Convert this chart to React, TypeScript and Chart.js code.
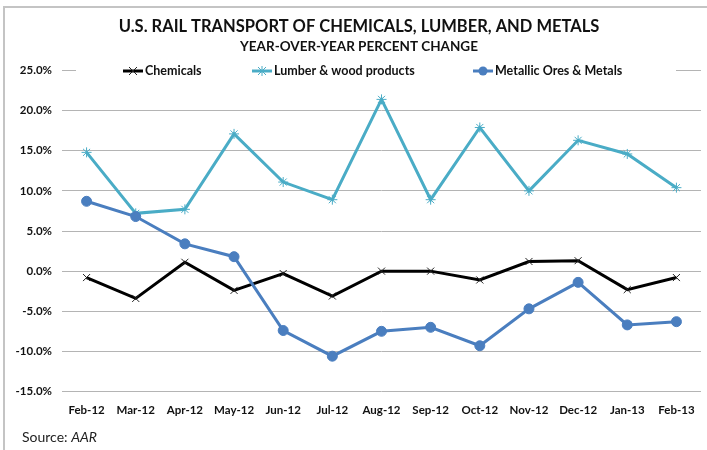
import React, { useEffect, useRef } from "react";
import { Chart, registerables } from "chart.js";

Chart.register(...registerables);

const categories = ["Feb-12", "Mar-12", "Apr-12", "May-12", "Jun-12", "Jul-12", "Aug-12", "Sep-12", "Oct-12", "Nov-12", "Dec-12", "Jan-13", "Feb-13"];
const chemicals = [-0.8, -3.4, 1.1, -2.4, -0.3, -3.1, 0.0, 0.0, -1.1, 1.2, 1.3, -2.3, -0.8];
const lumber = [14.8, 7.2, 7.7, 17.1, 11.1, 8.9, 21.4, 8.9, 17.9, 10.0, 16.3, 14.6, 10.4];
const metals = [8.7, 6.8, 3.4, 1.8, -7.4, -10.6, -7.5, -7.0, -9.3, -4.7, -1.4, -6.7, -6.3];

const titleText = "U.S. RAIL TRANSPORT OF CHEMICALS, LUMBER, AND METALS";
const subtitleText = "YEAR-OVER-YEAR PERCENT CHANGE";
const sourceLabel = "Source: ";
const sourceName = "AAR";

const FONT = "Lato, 'Open Sans', sans-serif";

const decorPlugin = {
  id: "decor",
  afterDraw(chart: any) {
    const ctx = chart.ctx as CanvasRenderingContext2D;
    ctx.save();
    // frame (top and left)
    ctx.strokeStyle = "#c4c4c4";
    ctx.lineWidth = 2;
    ctx.beginPath();
    ctx.moveTo(4, 450);
    ctx.lineTo(4, 7);
    ctx.lineTo(707, 7);
    ctx.stroke();

    // titles
    ctx.fillStyle = "#111";
    ctx.textAlign = "center";
    ctx.textBaseline = "middle";
    ctx.font = `bold 16.5px ${FONT}`;
    ctx.fillText(titleText, 359, 27);
    ctx.font = `bold 13.5px ${FONT}`;
    ctx.fillText(subtitleText, 359, 47);

    // legend box over the top gridline
    ctx.fillStyle = "#fff";
    ctx.fillRect(76, 60, 600, 22);
    const legendX = [123, 252, 473];
    chart.data.datasets.forEach((ds: any, i: number) => {
      const x = legendX[i];
      const y = 71;
      ctx.strokeStyle = ds.borderColor;
      ctx.lineWidth = 3;
      ctx.beginPath();
      ctx.moveTo(x, y);
      ctx.lineTo(x + 20, y);
      ctx.stroke();
      const cx = x + 10;
      ctx.lineWidth = 1;
      ctx.strokeStyle = ds.pointBorderColor;
      if (ds.pointStyle === "crossRot" || ds.pointStyle === "star") {
        const r = 4;
        ctx.beginPath();
        ctx.moveTo(cx - r, y - r);
        ctx.lineTo(cx + r, y + r);
        ctx.moveTo(cx - r, y + r);
        ctx.lineTo(cx + r, y - r);
        if (ds.pointStyle === "star") {
          ctx.moveTo(cx, y - r - 1);
          ctx.lineTo(cx, y + r + 1);
        }
        ctx.stroke();
      } else {
        ctx.fillStyle = ds.pointBackgroundColor;
        ctx.beginPath();
        ctx.arc(cx, y, 4.5, 0, Math.PI * 2);
        ctx.fill();
      }
      ctx.fillStyle = "#111";
      ctx.textAlign = "left";
      ctx.font = `bold 12.5px ${FONT}`;
      ctx.fillText(ds.label, x + 22, y);
    });

    // source
    ctx.fillStyle = "#222";
    ctx.textAlign = "left";
    ctx.font = `14px ${FONT}`;
    ctx.fillText(sourceLabel, 22, 437);
    const w = ctx.measureText(sourceLabel).width;
    ctx.font = `italic 14px ${FONT}`;
    ctx.fillText(sourceName, 22 + w, 437);
    ctx.restore();
  },
};

export default function App() {
  const ref = useRef<HTMLCanvasElement>(null);
  useEffect(() => {
    document.body.style.margin = "0";
    const canvas = ref.current!;
    const chart = new Chart(canvas, {
      type: "line",
      data: {
        labels: categories,
        datasets: [
          {
            label: "Chemicals",
            data: chemicals,
            borderColor: "#000000",
            backgroundColor: "#000000",
            borderWidth: 3,
            pointStyle: "crossRot",
            pointRadius: 5,
            pointBorderColor: "#222222",
            pointBackgroundColor: "#222222",
            pointBorderWidth: 1,
            order: 3,
          },
          {
            label: "Lumber & wood products",
            data: lumber,
            borderColor: "#4aacc6",
            backgroundColor: "#4aacc6",
            borderWidth: 3,
            pointStyle: "star",
            pointRadius: 5,
            pointBorderColor: "#4aacc6",
            pointBackgroundColor: "#4aacc6",
            pointBorderWidth: 1,
            order: 2,
          },
          {
            label: "Metallic Ores & Metals",
            data: metals,
            borderColor: "#4a7ebf",
            backgroundColor: "#4a7ebf",
            borderWidth: 3,
            pointStyle: "circle",
            pointRadius: 5,
            pointBorderColor: "#4a7ebf",
            pointBackgroundColor: "#4a7ebf",
            pointBorderWidth: 1,
            order: 1,
          },
        ],
      },
      options: {
        responsive: false,
        animation: false,
        layout: { padding: { top: 70.5, right: 2, bottom: 0, left: 0 } },
        plugins: { legend: { display: false }, title: { display: false }, tooltip: { enabled: false } },
        scales: {
          x: {
            offset: true,
            grid: { display: false, drawTicks: false },
            border: { display: false },
            ticks: {
              color: "#111",
              font: { family: FONT, size: 11.5, weight: "bold" },
              padding: 12,
              maxRotation: 0,
              autoSkip: false,
            },
            afterFit(scale: any) {
              scale.height = 58.5;
            },
          },
          y: {
            min: -15,
            max: 25,
            grid: { color: "#b4b4b4", lineWidth: 1, drawTicks: false },
            border: { display: false },
            ticks: {
              stepSize: 5,
              color: "#111",
              font: { family: FONT, size: 11.5, weight: "bold" },
              padding: 10,
              callback: (v: any) => Number(v).toFixed(1) + "%",
            },
            afterFit(scale: any) {
              scale.width = 62;
            },
          },
        },
      },
      plugins: [decorPlugin],
    } as any);
    return () => chart.destroy();
  }, []);
  return (
    <div style={{ width: 707, height: 450, background: "#fff" }}>
      <canvas ref={ref} width={707} height={450} />
    </div>
  );
}
